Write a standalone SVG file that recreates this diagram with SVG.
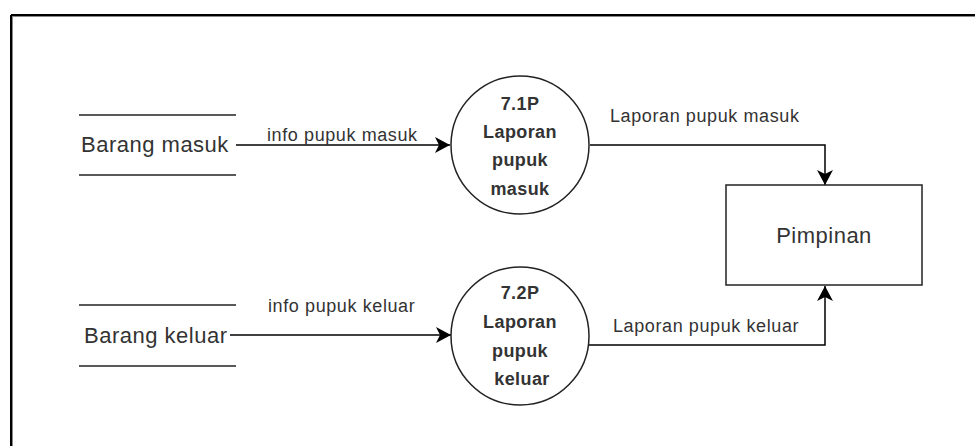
<svg xmlns="http://www.w3.org/2000/svg" width="975" height="446" viewBox="0 0 975 446">
  <style>
    .ln { fill: none; stroke: #000; stroke-width: 1.5; }
    .shape { fill: #fff; stroke: #222; stroke-width: 1.5; }
    .store { font-family: "Liberation Sans", Arial, sans-serif; font-size: 22px; fill: #333; letter-spacing: 0.5px; }
    .proc { font-family: "Liberation Sans", Arial, sans-serif; font-size: 18px; font-weight: bold; fill: #333; text-anchor: middle; letter-spacing: 0.4px; }
    .lbl { font-family: "Liberation Sans", Arial, sans-serif; font-size: 18px; fill: #333; letter-spacing: 0.6px; }
  </style>
  <defs>
    <marker id="arrowL" viewBox="0 0 16 16" refX="15" refY="8" markerWidth="16" markerHeight="16" markerUnits="userSpaceOnUse" orient="auto">
      <path d="M0,0 L15,8 L0,16 L4,8 Z" fill="#000"/>
    </marker>
  </defs>
  <rect width="975" height="446" fill="#fff"/>

  <!-- window frame -->
  <g id="frame">
    <line x1="11" y1="15" x2="975" y2="15" stroke="#000" stroke-width="2"/>
    <line x1="11" y1="15" x2="11" y2="446" stroke="#000" stroke-width="2"/>
    <line x1="12" y1="16.5" x2="975" y2="16.5" stroke="#888" stroke-width="1"/>
    <line x1="12.5" y1="16" x2="12.5" y2="446" stroke="#888" stroke-width="1"/>
  </g>

  <!-- connectors -->
  <g id="connectors">
    <path class="ln" d="M236,145 L450,145" marker-end="url(#arrowL)"/>
    <path class="ln" d="M230,335 L451,335" marker-end="url(#arrowL)"/>
    <path class="ln" d="M590,145 L825,145 L825,185" marker-end="url(#arrowL)"/>
    <path class="ln" d="M588,345 L825,345 L825,286" marker-end="url(#arrowL)"/>
    <text class="lbl" x="267" y="141">info pupuk masuk</text>
    <text class="lbl" x="268" y="312">info pupuk keluar</text>
    <text class="lbl" x="610" y="122">Laporan pupuk masuk</text>
    <text class="lbl" x="613" y="332">Laporan pupuk keluar</text>
  </g>

  <!-- data store: Barang masuk -->
  <g id="store-masuk">
    <line x1="79" y1="115" x2="236" y2="115" stroke="#222" stroke-width="1.5"/>
    <line x1="79" y1="175" x2="236" y2="175" stroke="#222" stroke-width="1.5"/>
    <text class="store" x="81" y="152">Barang masuk</text>
  </g>

  <!-- data store: Barang keluar -->
  <g id="store-keluar">
    <line x1="79" y1="305" x2="236" y2="305" stroke="#222" stroke-width="1.5"/>
    <line x1="79" y1="366" x2="236" y2="366" stroke="#222" stroke-width="1.5"/>
    <text class="store" x="84" y="343">Barang keluar</text>
  </g>

  <!-- process 7.1P -->
  <g id="proc-71">
    <circle class="shape" cx="520" cy="145" r="69"/>
    <text class="proc" x="520" y="110">7.1P</text>
    <text class="proc" x="520" y="138">Laporan</text>
    <text class="proc" x="520" y="166">pupuk</text>
    <text class="proc" x="520" y="195">masuk</text>
  </g>

  <!-- process 7.2P -->
  <g id="proc-72">
    <circle class="shape" cx="520" cy="336" r="69"/>
    <text class="proc" x="520" y="299">7.2P</text>
    <text class="proc" x="520" y="328">Laporan</text>
    <text class="proc" x="520" y="357">pupuk</text>
    <text class="proc" x="522" y="385">keluar</text>
  </g>

  <!-- external entity -->
  <g id="pimpinan">
    <rect class="shape" x="726" y="185" width="196" height="100"/>
    <text class="store" x="824" y="243" text-anchor="middle">Pimpinan</text>
  </g>
</svg>
